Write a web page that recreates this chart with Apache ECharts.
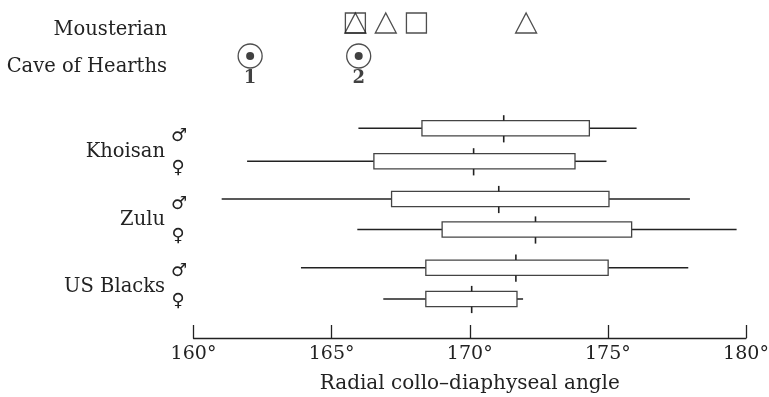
<!DOCTYPE html>
<html>
<head>
<meta charset="utf-8">
<script src="https://cdn.jsdelivr.net/npm/echarts@6/dist/echarts.min.js"></script>
<style>
  html, body { margin: 0; padding: 0; background: #fff; }
  #main { width: 769px; height: 397px; }
</style>
</head>
<body>
<div id="main"></div>
<script>
// values (degrees)
var groups = ['Khoisan', 'Zulu', 'US Blacks'];
var sexes = ['\u2642', '\u2640'];   // male, female -> one row each per group
var whiskerLow  = [165.97, 161.94, 161.02, 165.93, 163.89, 166.87];
var q1          = [168.27, 166.53, 167.17, 169.00, 168.41, 168.41];
var median      = [171.23, 170.14, 171.05, 172.38, 171.67, 170.07];
var q3          = [174.33, 173.81, 175.04, 175.86, 175.01, 171.71];
var whiskerHigh = [176.04, 174.95, 177.97, 179.66, 177.91, 171.93];

var mousterianSquares   = [165.86, 168.07];
var mousterianTriangles = [165.86, 166.96, 172.04];
var caveOfHearths       = [162.05, 165.98];
var caveLabels          = ['1', '2'];

var xTicks = [160, 165, 170, 175, 180];

// layout: vertical lane of each row (y axis runs in pixels, top = 0)
var laneMousterian = 23;
var laneCave = 56;
var laneBox = [128.3, 161.3, 199, 229.5, 267.7, 299];

var chart = echarts.init(document.getElementById('main'));

var boxData = [];
for (var i = 0; i < median.length; i++) {
  boxData.push([whiskerLow[i], q1[i], median[i], q3[i], whiskerHigh[i], laneBox[i]]);
}

var serif = 'DejaVu Serif';
var ink = '#222';

function renderBox(params, api) {
  var y = api.value(5);
  var lo = api.coord([api.value(0), y]);
  var a = api.coord([api.value(1), y]);
  var m = api.coord([api.value(2), y]);
  var b = api.coord([api.value(3), y]);
  var hi = api.coord([api.value(4), y]);
  var h = 7.6;
  var lineStyle = { stroke: ink, lineWidth: 1.5 };
  return {
    type: 'group',
    children: [
      { type: 'line', shape: { x1: lo[0], y1: lo[1], x2: a[0], y2: a[1] }, style: lineStyle },
      { type: 'line', shape: { x1: b[0], y1: b[1], x2: hi[0], y2: hi[1] }, style: lineStyle },
      { type: 'rect', shape: { x: a[0], y: a[1] - h, width: b[0] - a[0], height: 2 * h },
        style: { fill: '#fff', stroke: '#444', lineWidth: 1.3 } },
      { type: 'line', shape: { x1: m[0], y1: m[1] - h - 5.5, x2: m[0], y2: m[1] - h }, style: { stroke: ink, lineWidth: 1.6 } },
      { type: 'line', shape: { x1: m[0], y1: m[1] + h, x2: m[0], y2: m[1] + h + 6.5 }, style: { stroke: ink, lineWidth: 1.6 } }
    ]
  };
}

var graphics = [];
function addText(txt, right, cy, size) {
  graphics.push({
    type: 'text', x: right, y: cy,
    style: { text: txt, fill: ink, font: size + 'px "' + serif + '"', textAlign: 'right', textVerticalAlign: 'middle' }
  });
}
addText('Mousterian', 167, 30, 19.5);
addText('Cave of Hearths', 167, 67, 19.5);
var groupLabelY = [152, 220, 287];
var maleY = [136, 204, 271];
var femaleY = [168, 236, 301];
for (var g = 0; g < groups.length; g++) {
  addText(groups[g], 165, groupLabelY[g], 19.5);
  graphics.push({ type: 'text', x: 179, y: maleY[g],
    style: { text: sexes[0], fill: ink, font: '18px "DejaVu Sans"', textAlign: 'center', textVerticalAlign: 'middle' } });
  graphics.push({ type: 'text', x: 178, y: femaleY[g],
    style: { text: sexes[1], fill: ink, font: '18px "DejaVu Sans"', textAlign: 'center', textVerticalAlign: 'middle' } });
}

var option = {
  animation: false,
  backgroundColor: '#fff',
  grid: { left: 193.5, right: 23, top: 0, height: 338, outerBoundsMode: 'none' },
  xAxis: {
    type: 'value', min: 160, max: 180, interval: 5, position: 'bottom',
    name: 'Radial collo\u2013diaphyseal angle',
    nameLocation: 'middle', nameGap: 36,
    nameTextStyle: { fontFamily: serif, fontSize: 20, color: ink },
    axisLine: { show: true, onZero: false, lineStyle: { color: ink, width: 1.3 } },
    axisTick: { show: true, inside: true, length: 13, lineStyle: { color: ink, width: 1.3 } },
    axisLabel: {
      margin: 7, fontFamily: serif, fontSize: 19, color: ink,
      customValues: xTicks,
      formatter: function (v) { return v + '\u00b0'; }
    },
    splitLine: { show: false }
  },
  yAxis: {
    type: 'value', min: 0, max: 338, inverse: true, show: false
  },
  graphic: graphics,
  series: [
    {
      type: 'custom', renderItem: renderBox, data: boxData,
      encode: { x: [0, 1, 2, 3, 4], y: 5 }
    },
    {
      type: 'scatter', symbol: 'rect', symbolSize: [20, 20],
      itemStyle: { color: 'rgba(255,255,255,0)', borderColor: ink, borderWidth: 1.3 },
      data: mousterianSquares.map(function (v) { return [v, laneMousterian]; })
    },
    {
      type: 'scatter', symbol: 'triangle', symbolSize: [21, 20],
      itemStyle: { color: 'rgba(255,255,255,0)', borderColor: ink, borderWidth: 1.3 },
      data: mousterianTriangles.map(function (v) { return [v, laneMousterian]; })
    },
    {
      type: 'scatter', symbol: 'circle', symbolSize: 24,
      itemStyle: { color: '#fff', borderColor: ink, borderWidth: 1.3 },
      label: {
        show: true, position: 'bottom', distance: 1,
        fontFamily: serif, fontSize: 18, fontWeight: 'bold', color: '#111',
        formatter: function (p) { return caveLabels[p.dataIndex]; }
      },
      data: caveOfHearths.map(function (v) { return [v, laneCave]; })
    },
    {
      type: 'scatter', symbol: 'circle', symbolSize: 8,
      itemStyle: { color: '#111' },
      data: caveOfHearths.map(function (v) { return [v, laneCave]; })
    }
  ]
};

chart.setOption(option);
</script>
</body>
</html>
